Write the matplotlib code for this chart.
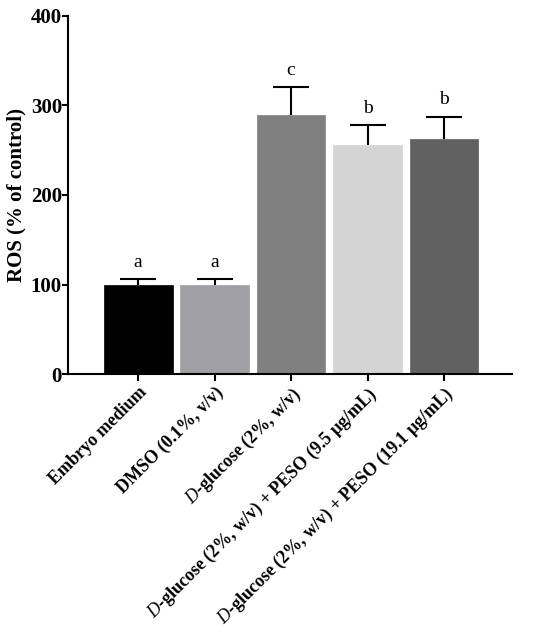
import matplotlib
matplotlib.use("Agg")
import matplotlib.pyplot as plt
import numpy as np

plt.rcParams["font.family"] = ["Liberation Serif", "DejaVu Serif"]
plt.rcParams["mathtext.fontset"] = "custom"
plt.rcParams["mathtext.it"] = "Liberation Serif:italic"
plt.rcParams["mathtext.rm"] = "Liberation Serif:bold"

groups = [
    "Embryo medium",
    "DMSO (0.1%, v/v)",
    "$\\mathit{D}$-glucose (2%, w/v)",
    "$\\mathit{D}$-glucose (2%, w/v) + PESO (9.5 µg/mL)",
    "$\\mathit{D}$-glucose (2%, w/v) + PESO (19.1 µg/mL)",
]
ros = [100, 99, 289, 256, 263]
sem = [6, 7, 31, 22, 24]
letters = ["a", "a", "c", "b", "b"]
colors = ["#000000", "#a0a0a4", "#808080", "#d4d4d4", "#616161"]

x = np.arange(len(groups))

fig = plt.figure(figsize=(5.5, 6.31), dpi=100)
ax = fig.add_axes([0.124, 0.407, 0.807, 0.568])

ax.bar(x, ros, width=0.9, color=colors, edgecolor=colors, linewidth=0.5, zorder=2)
eb = ax.errorbar(x, ros, yerr=[np.zeros(len(sem)), sem], fmt="none", ecolor="black",
                 elinewidth=1.5, capsize=13, capthick=1.5, zorder=3)
# only the upper cap is shown
eb[1][0].set_visible(False)

for i, (v, e, t) in enumerate(zip(ros, sem, letters)):
    ax.text(i, v + e + 14, t, ha="center", va="baseline", fontsize=14)

ax.set_xlim(-0.915, 4.89)
ax.set_ylim(0, 400)
ax.set_yticks([0, 100, 200, 300, 400])
ax.set_xticks(x)
ax.set_xticklabels(groups, rotation=45, ha="right", rotation_mode="anchor",
                   fontsize=13, fontweight="bold")
for lbl in ax.get_yticklabels():
    lbl.set_fontweight("bold")
    lbl.set_fontsize(15)
ax.set_ylabel("ROS (% of control)", fontsize=15, fontweight="bold", labelpad=3)

ax.spines["top"].set_visible(False)
ax.spines["right"].set_visible(False)
ax.spines["left"].set_linewidth(1.5)
ax.spines["bottom"].set_linewidth(1.5)
ax.tick_params(axis="y", width=1.5, length=4, pad=0.5)
ax.tick_params(axis="x", width=1.5, length=5, pad=2)

fig.savefig("out.png", dpi=100)
